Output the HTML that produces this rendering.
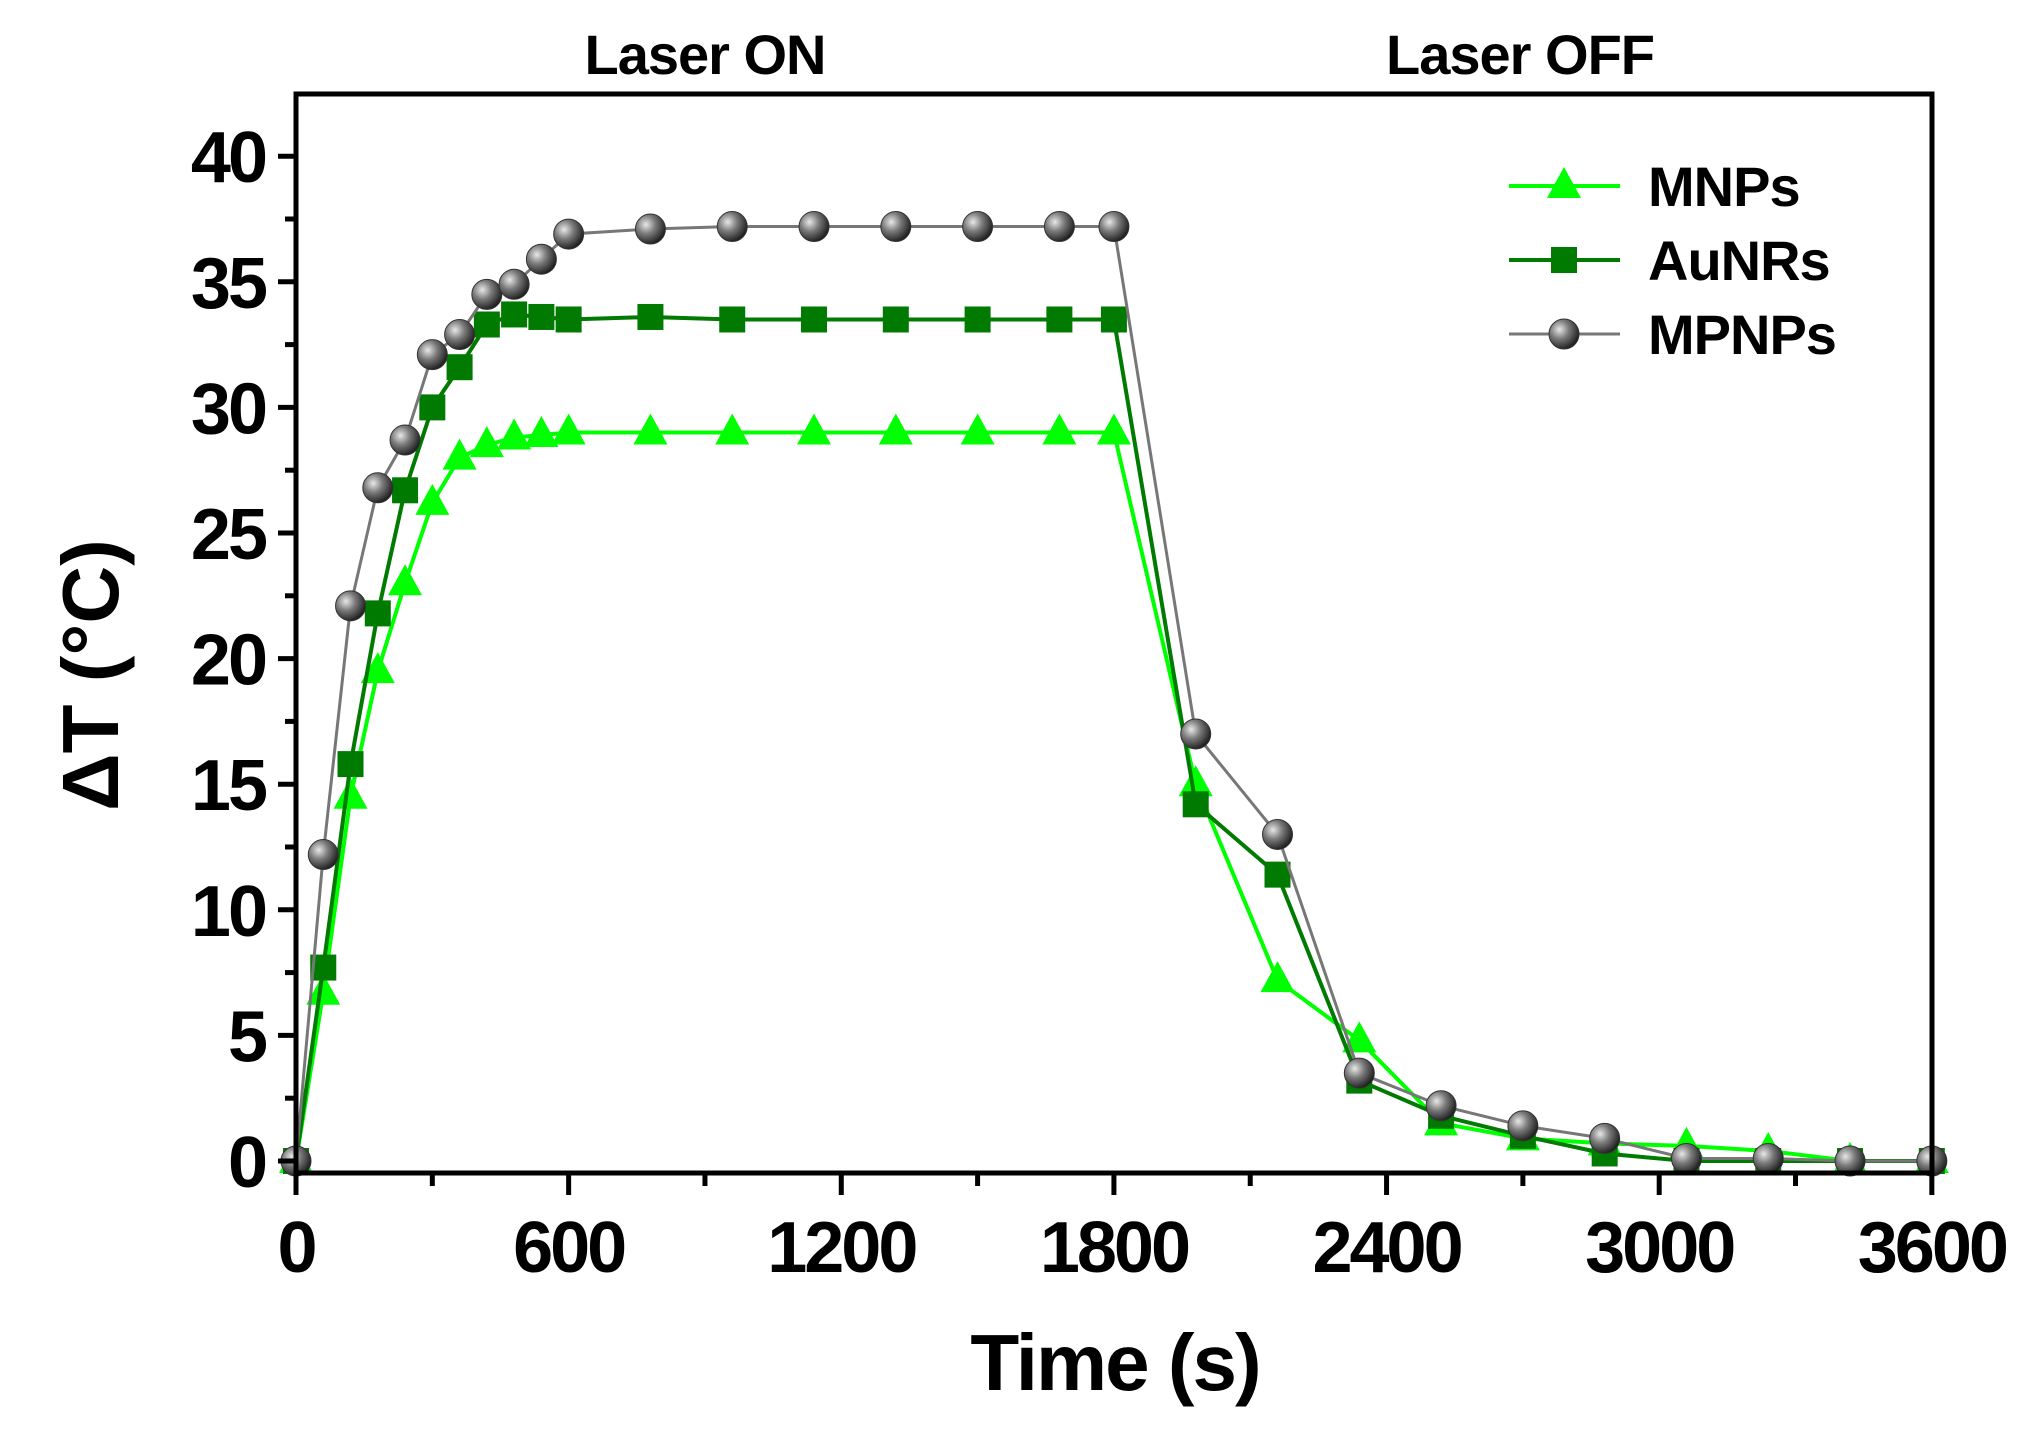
<!DOCTYPE html>
<html><head><meta charset="utf-8"><style>
html,body{margin:0;padding:0;background:#fff;}
svg{display:block;font-family:"Liberation Sans",Arial,sans-serif;font-weight:bold;}
</style></head><body>
<svg id="c" width="2039" height="1435" viewBox="0 0 2039 1435" xmlns="http://www.w3.org/2000/svg">
<defs>
<radialGradient id="sph" cx="0.35" cy="0.35" r="0.7">
<stop offset="0" stop-color="#e8e8e8"/><stop offset="0.45" stop-color="#7a7a7a"/><stop offset="1" stop-color="#1a1a1a"/>
</radialGradient>
</defs>
<g id="plot"></g>
<rect x="296" y="94" width="1636" height="1079" fill="none" stroke="#000" stroke-width="5"/>
<g id="ticks" stroke="#000" stroke-width="5"></g>
<g font-size="72" letter-spacing="-3" text-anchor="end" id="ylab"></g>
<g font-size="72" letter-spacing="-3" text-anchor="middle" id="xlab"></g>
<text x="705" y="74" font-size="56" letter-spacing="-1" text-anchor="middle">Laser ON</text>
<text x="1520" y="74" font-size="56" letter-spacing="-1" text-anchor="middle">Laser OFF</text>
<text x="1115" y="1390" font-size="80" letter-spacing="-2" text-anchor="middle">Time (s)</text>
<text transform="translate(118,675) rotate(-90)" font-size="80" text-anchor="middle">ΔT (°C)</text>
<g id="leg"></g>
</svg>
<script>
const NS="http://www.w3.org/2000/svg";
function el(t,a,p){const e=document.createElementNS(NS,t);for(const k in a)e.setAttribute(k,a[k]);p.appendChild(e);return e;}
const X=t=>296+t*0.4544, Y=v=>1161-v*25.12;
const T=[0,60,120,180,240,300,360,420,480,540,600,780,960,1140,1320,1500,1680,1800,1980,2160,2340,2520,2700,2880,3060,3240,3420,3600];
const M=[0,6.7,14.5,19.5,23,26.2,28,28.5,28.8,28.9,29,29,29,29,29,29,29,29,15,7.2,4.8,1.5,0.9,0.7,0.6,0.4,0,0];
const A=[0,7.7,15.8,21.8,26.7,30,31.6,33.3,33.7,33.6,33.5,33.6,33.5,33.5,33.5,33.5,33.5,33.5,14.2,11.4,3.2,1.8,1.0,0.3,0,0,0,0];
const P=[0,12.2,22.1,26.8,28.7,32.1,32.9,34.5,34.9,35.9,36.9,37.1,37.2,37.2,37.2,37.2,37.2,37.2,17,13,3.5,2.2,1.4,0.9,0.1,0.1,0,0];
const g=document.getElementById('plot');
function tri(x,y,p,c){el('polygon',{points:`${x},${y-19} ${x-17},${y+12} ${x+17},${y+12}`,fill:c},p);}
function sq(x,y,p,c){el('rect',{x:x-13,y:y-13,width:26,height:26,fill:c},p);}
function sp(x,y,p){el('circle',{cx:x,cy:y,r:15,fill:'url(#sph)',stroke:'#333','stroke-width':1},p);}
function series(V,col,w,mk){
 el('polyline',{points:T.map((t,i)=>X(t)+','+Y(V[i])).join(' '),fill:'none',stroke:col,'stroke-width':w},g);
 T.forEach((t,i)=>mk(X(t),Y(V[i]),g));
}
series(M,'#00ff00',4,(x,y,p)=>tri(x,y,p,'#00ff00'));
series(A,'#007a00',4,(x,y,p)=>sq(x,y,p,'#007a00'));
series(P,'#777',3,(x,y,p)=>sp(x,y,p));
const tk=document.getElementById('ticks'),yl=document.getElementById('ylab'),xl=document.getElementById('xlab');
for(let v=0;v<=40;v+=2.5){const y=Y(v);const major=v%5==0;el('line',{x1:296,x2:major?278:285,y1:y,y2:y},tk);
 if(major){const t=el('text',{x:265,y:y+26},yl);t.textContent=v;}}
for(let t=0;t<=3600;t+=300){const x=X(t);const major=t%600==0;el('line',{x1:x,x2:x,y1:1173,y2:major?1195:1186},tk);
 if(major){const e=el('text',{x:x,y:1272},xl);e.textContent=t;}}
const L=document.getElementById('leg');
const items=[['MNPs','#00ff00',4,(x,y,p)=>tri(x,y,p,'#00ff00')],['AuNRs','#007a00',4,(x,y,p)=>sq(x,y,p,'#007a00')],['MPNPs','#777',3,(x,y,p)=>sp(x,y,p)]];
items.forEach((it,i)=>{const y=186+i*74;el('line',{x1:1509,x2:1620,y1:y,y2:y,stroke:it[1],'stroke-width':it[2]},L);it[3](1564,y,L);
 const t=el('text',{x:1648,y:y+20,'font-size':56,'letter-spacing':-1},L);t.textContent=it[0];});
</script>
</body></html>
